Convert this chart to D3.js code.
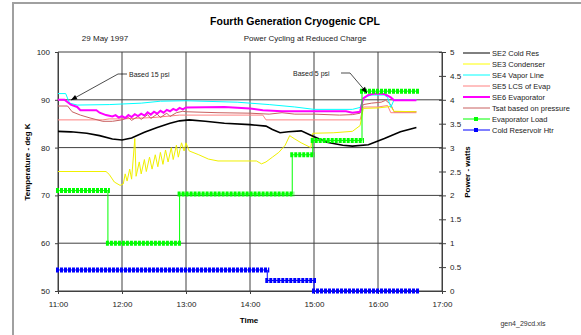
<!DOCTYPE html>
<html><head><meta charset="utf-8">
<script src="https://cdn.jsdelivr.net/npm/d3@7"></script>
<style>
body{margin:0;background:#fff;}
svg{display:block;font-family:"Liberation Sans",Arial,sans-serif;}
</style></head>
<body><svg id="c" width="581" height="335"></svg>
<script>
// ---------- data ----------
const timeTicks = [11,12,13,14,15,16,17];
const tempTicks = [50,60,70,80,90,100];
const powerTicks = [0,0.5,1,1.5,2,2.5,3,3.5,4,4.5,5];

const se2Times = [11.0,11.2,11.45,11.65,11.85,12.0,12.15,12.35,12.55,12.75,12.9,13.05,13.3,13.6,14.0,14.25,14.35,14.47,14.6,14.8,14.95,15.2,15.45,15.6,15.85,16.1,16.35,16.6];
const se2Vals  = [83.4,83.3,83.0,82.5,81.8,81.6,82.0,83.2,84.2,85.1,85.6,85.8,85.5,85.1,84.8,84.5,83.8,83.1,83.3,83.5,82.6,81.1,80.5,80.3,80.6,81.9,83.3,84.2];

const se3Times = [11.0,11.75,11.8,11.88,11.97,12.02,12.05,12.08,12.12,12.15,12.2,12.22,12.27,12.3,12.35,12.38,12.43,12.47,12.52,12.56,12.6,12.64,12.68,12.72,12.77,12.8,12.85,12.88,12.93,12.97,13.0,13.05,13.2,13.35,13.5,14.1,14.18,14.25,14.35,14.45,14.55,14.62,14.7,14.8,14.95,14.98,15.3,15.6,15.72,15.77,16.0,16.2,16.25,16.6];
const se3Vals  = [75.0,75.0,74.4,72.8,72.1,72.4,74.5,73.0,75.5,73.4,81.9,74.0,77.0,74.5,77.5,75.0,78.0,75.5,78.5,76.0,79.0,76.5,79.5,77.0,80.0,77.5,80.5,78.0,81.0,79.3,81.0,79.3,78.5,77.6,77.2,77.2,76.6,77.0,78.0,79.0,80.5,82.5,81.8,81.0,80.0,83.0,83.1,83.4,84.6,88.2,88.3,88.6,87.6,87.5];

const se4Times = [11.0,11.12,11.18,11.3,11.8,12.3,12.6,13.0,13.8,14.3,14.7,15.0,15.6,15.72,15.78,15.9,16.1,16.15,16.2,16.25,16.6];
const se4Vals  = [91.3,91.3,89.3,88.9,89.0,89.3,89.7,89.8,89.5,89.0,88.5,88.0,88.0,88.4,90.5,91.0,91.0,90.5,88.4,90.0,90.0];

const se5Times = [11.0,11.7,11.8,12.0,12.5,12.9,13.5,14.2,14.25,15.72,15.77,16.0,16.15,16.2,16.6];
const se5Vals  = [85.8,85.8,86.0,86.0,86.3,86.8,86.8,86.8,85.8,85.8,88.5,88.5,88.8,87.3,87.3];

const se6Times = [11.0,11.1,11.2,11.3,11.35,11.6,11.65,11.75,11.85,11.9,11.95,12.0,12.05,12.1,12.15,12.2,12.25,12.3,12.35,12.4,12.45,12.5,12.55,12.6,12.65,12.7,12.75,12.8,12.85,12.9,12.95,13.0,13.6,14.0,14.2,14.5,15.5,15.6,15.72,15.77,15.85,15.95,16.1,16.2,16.25,16.6];
const se6Vals  = [90.0,90.0,89.0,88.5,87.8,87.8,87.3,86.8,86.5,86.8,86.3,86.6,86.2,86.8,86.4,87.0,86.6,87.1,86.7,87.4,86.9,87.5,87.1,87.7,87.3,87.9,87.6,88.1,87.8,88.3,88.0,88.4,88.5,88.2,87.8,87.6,87.6,87.3,87.5,90.3,91.0,91.3,91.2,90.5,89.9,89.9];

const tsatTimes = [11.0,11.15,11.22,11.35,11.5,11.7,11.85,12.0,12.1,12.15,12.25,12.3,12.4,12.45,12.55,12.6,12.7,12.75,12.85,12.95,13.0,13.5,14.0,14.3,14.5,14.7,15.0,15.4,15.6,15.72,15.77,15.9,16.05,16.12,16.2,16.25,16.6];
const tsatVals  = [88.7,88.7,87.5,86.8,86.2,85.5,85.5,85.8,86.3,85.7,86.5,85.9,86.9,86.1,87.0,86.3,87.2,86.5,87.3,87.6,87.5,87.3,87.2,87.0,87.3,87.0,87.0,86.8,86.9,87.2,89.0,89.3,89.5,89.9,89.0,87.5,87.5];

const loadTimes = [11.0,11.78,12.9,14.66,14.98,15.75];
const loadVals  = [2.1,1.0,2.03,2.85,3.15,4.18];
const loadEnd = 16.62;

const htrTimes = [11.0,14.27,15.0];
const htrVals  = [0.44,0.22,0.0];
const htrEnd = 16.62;

const legendLabels = ["SE2 Cold Res","SE3 Condenser","SE4 Vapor Line","SE5 LCS of Evap","SE6 Evaporator","Tsat based on pressure","Evaporator Load","Cold Reservoir Htr"];
const legendColors = ["#000000","#ffff00","#00ffff","#ff8080","#ff00ff","#c86060","#00ff00","#0000ff"];

// ---------- chart ----------
const svg = d3.select("#c");
svg.append("rect").attr("width",581).attr("height",335).attr("fill","#fff");
svg.append("path").attr("d","M13,335V3H581").attr("fill","none").attr("stroke","#a0a0a0").attr("stroke-width",2);

const x = d3.scaleLinear().domain([11,17]).range([58,442]);
const yL = d3.scaleLinear().domain([50,100]).range([291,52]);
const yR = d3.scaleLinear().domain([0,5]).range([291,52]);

// gridlines
const g = svg.append("g");
g.selectAll(".hg").data(tempTicks).join("line")
  .attr("x1",58).attr("x2",442).attr("y1",d=>yL(d)).attr("y2",d=>yL(d))
  .attr("stroke","#404040").attr("stroke-width",1);
g.selectAll(".vg").data(timeTicks).join("line")
  .attr("x1",d=>x(d)).attr("x2",d=>x(d)).attr("y1",52).attr("y2",291)
  .attr("stroke","#404040").attr("stroke-width",1);

// axes
const fmtTime = d => d3.format("02")(d)+":00";
const xa = svg.append("g").attr("transform","translate(0,291)")
  .call(d3.axisBottom(x).tickValues(timeTicks).tickFormat(fmtTime).tickSize(3).tickPadding(7));
const ya = svg.append("g").attr("transform","translate(58,0)")
  .call(d3.axisLeft(yL).tickValues(tempTicks).tickSize(3).tickPadding(5));
const yra = svg.append("g").attr("transform","translate(442,0)")
  .call(d3.axisRight(yR).tickValues(powerTicks).tickFormat(d=>String(d)).tickSize(4).tickPadding(4));
yra.selectAll(".tick line").attr("x1",-3);
[xa,ya,yra].forEach(a=>{
  a.select(".domain").attr("stroke","#404040");
  a.selectAll(".tick line").attr("stroke","#404040");
  a.selectAll("text").attr("font-size",8).attr("fill","#222");
});

const lineT = (ts,vs) => d3.line().x((d,i)=>x(ts[i])).y((d,i)=>yL(vs[i]))(vs);

// temperature lines
svg.append("path").attr("d",lineT(se5Times,se5Vals)).attr("fill","none").attr("stroke","#ff8080").attr("stroke-width",1);
svg.append("path").attr("d",lineT(tsatTimes,tsatVals)).attr("fill","none").attr("stroke","#c86060").attr("stroke-width",1);
svg.append("path").attr("d",lineT(se3Times,se3Vals)).attr("fill","none").attr("stroke","#f0f000").attr("stroke-width",1);
svg.append("path").attr("d",lineT(se4Times,se4Vals)).attr("fill","none").attr("stroke","#00ffff").attr("stroke-width",1);
svg.append("path").attr("d",lineT(se6Times,se6Vals)).attr("fill","none").attr("stroke","#ff00ff").attr("stroke-width",2);
svg.append("path").attr("d",lineT(se2Times,se2Vals)).attr("fill","none").attr("stroke","#000").attr("stroke-width",1.6);

// power step series
function stepSeries(ts,vs,end,color){
  const pts = ts.map((t,i)=>[t,vs[i]]);
  pts.push([end,vs[vs.length-1]]);
  svg.append("path")
    .attr("d",d3.line().curve(d3.curveStepAfter).x(d=>x(d[0])).y(d=>yR(d[1]))(pts))
    .attr("fill","none").attr("stroke",color).attr("stroke-width",1);
  ts.forEach((t,i)=>{
    const t1 = i<ts.length-1 ? ts[i+1] : end;
    svg.append("line").attr("x1",x(t)-2).attr("x2",x(t1)+2)
      .attr("y1",yR(vs[i])).attr("y2",yR(vs[i]))
      .attr("stroke",color).attr("stroke-width",5).attr("stroke-dasharray","3,1");
  });
}
stepSeries(htrTimes,htrVals,htrEnd,"#0000ff");
stepSeries(loadTimes,loadVals,loadEnd,"#00ff00");

// annotations
function arrow(pts){
  svg.append("path").attr("d",d3.line()(pts)).attr("fill","none").attr("stroke","#000").attr("stroke-width",0.7);
  const [a,b] = [pts[pts.length-2],pts[pts.length-1]];
  const ang = Math.atan2(b[1]-a[1],b[0]-a[0]);
  const L=6,W=2.5;
  const p1=[b[0]-L*Math.cos(ang)+W*Math.sin(ang), b[1]-L*Math.sin(ang)-W*Math.cos(ang)];
  const p2=[b[0]-L*Math.cos(ang)-W*Math.sin(ang), b[1]-L*Math.sin(ang)+W*Math.cos(ang)];
  svg.append("path").attr("d",`M${b[0]},${b[1]}L${p1[0]},${p1[1]}L${p2[0]},${p2[1]}Z`).attr("fill","#000");
}
arrow([[127,74],[118,74],[71,100]]);
svg.append("text").attr("x",129).attr("y",76.5).attr("font-size",7).attr("fill","#222").text("Based 15 psi");
arrow([[341,73],[350,73],[367,93]]);
svg.append("text").attr("x",293).attr("y",75.5).attr("font-size",7).attr("fill","#222").text("Based 5 psi");

// titles
svg.append("text").attr("x",295).attr("y",25).attr("text-anchor","middle").attr("font-size",10.5).attr("font-weight","bold").text("Fourth Generation Cryogenic CPL");
svg.append("text").attr("x",105).attr("y",41).attr("text-anchor","middle").attr("font-size",8).attr("fill","#222").text("29 May 1997");
svg.append("text").attr("x",305).attr("y",41).attr("text-anchor","middle").attr("font-size",8).attr("fill","#222").text("Power Cycling at Reduced Charge");
svg.append("text").attr("x",249).attr("y",323).attr("text-anchor","middle").attr("font-size",8).attr("font-weight","bold").text("Time");
svg.append("text").attr("transform","translate(30,162) rotate(-90)").attr("text-anchor","middle").attr("font-size",8).attr("font-weight","bold").text("Temperature - deg K");
svg.append("text").attr("transform","translate(470,172) rotate(-90)").attr("text-anchor","middle").attr("font-size",8).attr("font-weight","bold").text("Power - watts");
svg.append("text").attr("x",523).attr("y",326).attr("text-anchor","middle").attr("font-size",7).attr("fill","#333").text("gen4_29cd.xls");

// legend
const lg = svg.append("g");
legendLabels.forEach((lab,i)=>{
  const yy = 53 + i*11;
  lg.append("line").attr("x1",463).attr("x2",490).attr("y1",yy).attr("y2",yy)
    .attr("stroke",legendColors[i]).attr("stroke-width",(i===4)?2:1);
  if(i>=6){
    lg.append("rect").attr("x",474).attr("y",yy-2).attr("width",4).attr("height",4).attr("fill",legendColors[i]);
  }
  lg.append("text").attr("x",492).attr("y",yy+3).attr("font-size",7.5).attr("fill","#222").text(lab);
});
</script></body></html>
